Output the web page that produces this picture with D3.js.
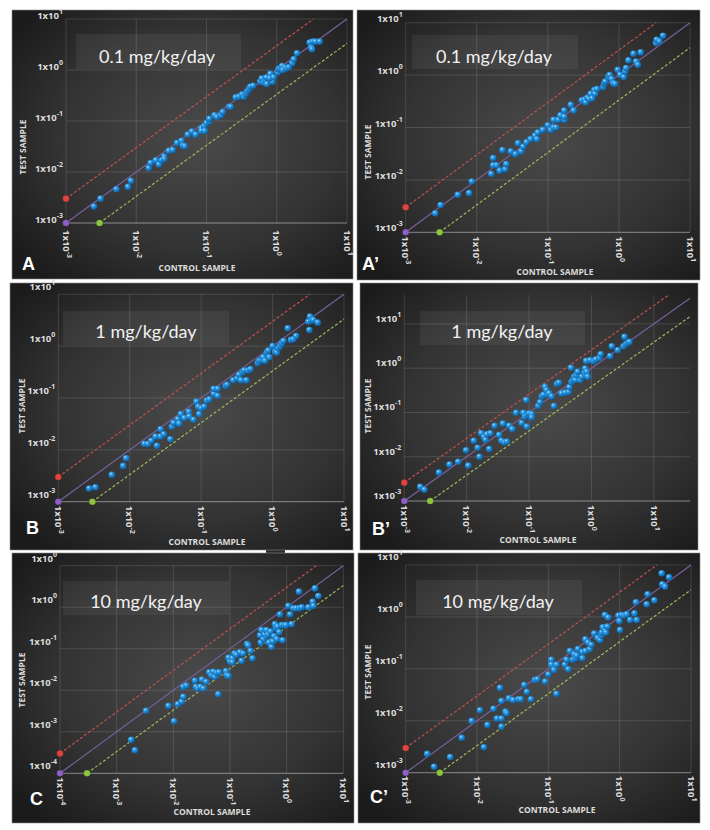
<!DOCTYPE html>
<html><head><meta charset="utf-8">
<script src="https://cdn.jsdelivr.net/npm/d3@7/dist/d3.min.js"></script>
<style>body{margin:0;background:#fff}svg{display:block}</style>
</head><body>
<svg id="chart" width="710" height="830"></svg>
<script>
// ---------------- DATA (control sample value, test sample value) ----------------
const pointsA = [[2.5e-3,2.1e-3],[3.1e-3,3.0e-3],[5.2e-3,4.6e-3],[7.6e-3,5.1e-3],[8.4e-3,6.7e-3],
[1.5e-2,1.2e-2],[1.6e-2,1.5e-2],[1.9e-2,1.7e-2],[2.1e-2,1.4e-2],[2.3e-2,1.7e-2],
[2.5e-2,2.0e-2],[2.5e-2,1.8e-2],[2.9e-2,2.6e-2],[3.3e-2,2.7e-2],[3.8e-2,3.7e-2],
[4.4e-2,4.1e-2],[4.6e-2,3.3e-2],[4.9e-2,3.2e-2],[5.4e-2,5.4e-2],[6.2e-2,6.2e-2],
[7.0e-2,5.4e-2],[8.4e-2,7.2e-2],[9.3e-2,8.0e-2],[8.4e-2,6.4e-2],[0.10,9.1e-2],
[0.11,9.8e-2],[9.4e-2,6.4e-2],[0.11,0.11],[0.13,0.13],[0.14,0.12],
[0.16,0.13],[0.17,0.15],[0.21,0.19],[0.22,0.19],[0.26,0.29],
[0.29,0.30],[0.32,0.33],[0.34,0.30],[0.36,0.34],[0.38,0.38],
[0.40,0.42],[0.42,0.47],[0.46,0.49],[0.58,0.59],[0.61,0.68],
[0.65,0.57],[0.69,0.62],[0.71,0.71],[0.72,0.53],[0.81,0.84],
[0.87,0.59],[0.79,0.69],[0.90,0.72],[1.03,0.89],[1.06,1.04],
[1.12,1.08],[1.19,1.20],[1.28,1.13],[1.22,1.00],[1.36,1.07],
[1.48,1.13],[1.66,1.36],[1.74,1.62],[1.94,2.13],[2.94,3.44],
[3.10,2.75],[3.17,2.55],[3.27,3.60],[3.54,3.60],[4.07,3.60]];

const pointsAp = [[2.6e-3,2.3e-3],[3.1e-3,3.3e-3],[5.4e-3,5.2e-3],[7.8e-3,5.6e-3],[8.5e-3,9.3e-3],
[1.6e-2,1.3e-2],[1.7e-2,1.9e-2],[1.7e-2,2.6e-2],[1.9e-2,1.9e-2],[2.1e-2,1.5e-2],
[2.3e-2,3.7e-2],[2.5e-2,1.6e-2],[2.6e-2,2.0e-2],[3.0e-2,3.5e-2],[3.5e-2,3.1e-2],
[3.8e-2,5.0e-2],[4.2e-2,3.5e-2],[4.5e-2,4.3e-2],[5.0e-2,5.2e-2],[5.7e-2,6.0e-2],
[6.6e-2,7.0e-2],[7.0e-2,6.0e-2],[7.2e-2,8.0e-2],[8.5e-2,9.0e-2],[0.10,0.11],
[0.11,9.0e-2],[0.12,0.10],[0.13,0.10],[0.12,0.14],[0.14,0.14],
[0.17,0.14],[0.15,0.17],[0.17,0.21],[0.17,0.16],[0.21,0.27],
[0.23,0.21],[0.30,0.33],[0.33,0.34],[0.34,0.30],[0.36,0.37],
[0.38,0.35],[0.40,0.44],[0.42,0.36],[0.45,0.52],[0.46,0.44],
[0.49,0.54],[0.60,0.59],[0.62,0.68],[0.64,0.75],[0.71,0.92],
[0.74,1.0],[0.79,0.84],[0.83,0.70],[0.88,0.68],[0.96,1.26],
[1.04,1.01],[1.17,0.92],[1.22,1.17],[1.26,1.36],[1.36,1.91],
[1.60,2.56],[1.74,1.82],[1.84,1.57],[2.02,2.71],[3.32,4.08],
[3.40,4.73],[3.71,4.40],[4.17,5.65]];

const pointsB = [[2.7e-3,1.8e-3],[3.3e-3,1.9e-3],[5.6e-3,3.3e-3],[8.1e-3,4.9e-3],[8.9e-3,6.9e-3],
[1.6e-2,1.3e-2],[1.8e-2,1.3e-2],[2.0e-2,1.5e-2],[2.4e-2,1.2e-2],[2.3e-2,1.8e-2],
[2.7e-2,2.5e-2],[2.7e-2,1.8e-2],[3.0e-2,2.0e-2],[3.7e-2,1.6e-2],[3.9e-2,2.8e-2],
[4.1e-2,3.3e-2],[4.7e-2,3.9e-2],[4.9e-2,3.2e-2],[5.2e-2,4.9e-2],[5.8e-2,4.1e-2],
[6.7e-2,5.4e-2],[6.8e-2,4.4e-2],[7.8e-2,3.8e-2],[8.6e-2,8.5e-2],[9.1e-2,6.8e-2],
[9.4e-2,4.9e-2],[0.10,6.3e-2],[0.11,6.8e-2],[0.12,8.9e-2],[0.13,9.4e-2],
[0.15,0.12],[0.15,0.15],[0.17,0.11],[0.17,0.15],[0.22,0.17],
[0.23,0.18],[0.28,0.22],[0.32,0.24],[0.34,0.28],[0.36,0.22],
[0.38,0.31],[0.40,0.34],[0.43,0.22],[0.45,0.34],[0.49,0.36],
[0.62,0.47],[0.65,0.52],[0.70,0.54],[0.74,0.61],[0.78,0.52],
[0.83,0.75],[0.87,0.82],[0.90,0.61],[1.0,1.0],[1.09,0.78],
[1.14,0.75],[1.20,0.91],[1.27,1.0],[1.34,1.13],[1.42,1.26],
[1.63,2.21],[1.81,1.32],[1.95,1.36],[2.13,1.57],[3.27,2.05],
[3.17,2.97],[3.34,3.71],[3.52,3.10],[3.72,3.20],[4.28,2.84]];

const pointsBp = [[1.8e-3,2.1e-3],[2.1e-3,1.8e-3],[3.6e-3,4.4e-3],[5.3e-3,6.7e-3],[7.3e-3,7.7e-3],
[1.06e-2,6.3e-3],[9.8e-3,1.4e-2],[1.3e-2,2.3e-2],[1.5e-2,1.6e-2],[1.6e-2,1.0e-2],
[1.7e-2,3.4e-2],[1.9e-2,2.8e-2],[2.0e-2,2.4e-2],[2.1e-2,3.2e-2],[2.3e-2,1.5e-2],
[2.4e-2,3.4e-2],[2.8e-2,5.0e-2],[3.3e-2,3.1e-2],[3.6e-2,2.3e-2],[3.8e-2,5.6e-2],
[4.0e-2,2.1e-2],[4.4e-2,2.2e-2],[4.8e-2,5.0e-2],[5.4e-2,4.2e-2],[6.2e-2,9.8e-2],
[7.6e-2,5.8e-2],[8.1e-2,9.8e-2],[8.6e-2,8.0e-2],[9.0e-2,0.19],[9.2e-2,4.8e-2],
[9.4e-2,8.7e-2],[0.10,9.5e-2],[0.11,9.2e-2],[0.11,7.7e-2],[0.14,0.14],
[0.15,0.17],[0.16,0.23],[0.17,0.25],[0.18,0.38],[0.19,0.32],
[0.20,0.25],[0.21,0.27],[0.23,0.23],[0.25,0.14],[0.28,0.44],
[0.30,0.47],[0.33,0.27],[0.38,0.28],[0.43,0.29],[0.44,0.37],
[0.47,1.02],[0.48,0.49],[0.51,0.55],[0.53,0.64],[0.55,0.54],
[0.57,0.70],[0.60,0.83],[0.66,0.54],[0.70,0.64],[0.77,0.79],
[0.79,0.98],[0.82,0.70],[0.84,0.83],[0.87,0.64],[0.82,1.46],
[0.95,1.51],[1.08,1.44],[1.17,1.57],[1.34,1.71],[1.41,2.07],
[1.99,1.87],[2.12,3.13],[2.64,2.55],[3.26,3.13],[3.38,5.09],
[3.56,3.48],[3.83,3.72],[4.07,3.93]];

const pointsC = [[1.8e-3,6.4e-4],[2.1e-3,3.6e-4],[3.3e-3,3.2e-3],[8.2e-3,4.2e-3],[1.03e-2,1.8e-3],
[1.2e-2,4.6e-3],[1.4e-2,5.3e-3],[1.5e-2,7.0e-3],[1.5e-2,1.2e-2],[1.7e-2,1.3e-2],
[2.4e-2,1.7e-2],[2.5e-2,1.2e-2],[2.7e-2,1.1e-2],[3.0e-2,1.2e-2],[3.2e-2,1.8e-2],
[3.4e-2,1.1e-2],[3.8e-2,1.6e-2],[4.3e-2,2.7e-2],[4.7e-2,2.3e-2],[5.1e-2,2.8e-2],
[5.4e-2,2.1e-2],[5.8e-2,2.6e-2],[6.2e-2,8.0e-3],[6.4e-2,2.7e-2],[8.5e-2,2.9e-2],
[8.7e-2,2.3e-2],[9.4e-2,2.2e-2],[9.4e-2,6.1e-2],[0.10,4.9e-2],[0.11,5.9e-2],
[0.11,4.7e-2],[0.12,7.7e-2],[0.13,7.1e-2],[0.15,8.2e-2],[0.16,5.1e-2],
[0.17,7.7e-2],[0.20,0.13],[0.21,0.12],[0.23,8.8e-2],[0.25,5.9e-2],
[0.34,0.21],[0.35,0.14],[0.36,0.28],[0.39,0.17],[0.41,0.22],
[0.44,0.28],[0.44,0.20],[0.47,0.22],[0.49,0.14],[0.52,0.26],
[0.54,0.11],[0.57,0.15],[0.60,0.20],[0.62,0.39],[0.65,0.31],
[0.67,0.17],[0.69,0.34],[0.74,0.25],[0.76,0.67],[0.82,0.37],
[0.85,0.16],[0.90,0.37],[0.97,0.37],[1.07,1.07],[1.15,0.67],
[1.22,0.39],[1.31,0.94],[1.46,0.94],[1.65,2.37],[1.67,0.94],
[1.84,0.99],[2.41,0.99],[2.88,1.36],[2.96,1.07],[3.16,2.84],
[3.62,1.86]];

const pointsCp = [[2.0e-3,2.3e-3],[2.5e-3,1.3e-3],[4.2e-3,2.0e-3],[6.1e-3,4.7e-3],[8.4e-3,9.9e-3],
[1.1e-2,1.6e-2],[1.25e-2,3.1e-3],[1.4e-2,8.3e-3],[1.7e-2,1.7e-2],[1.9e-2,1.1e-2],
[2.1e-2,4.3e-2],[2.2e-2,1.1e-2],[2.2e-2,2.4e-2],[2.2e-2,7.7e-3],[2.5e-2,1.5e-2],
[2.6e-2,1.4e-2],[2.8e-2,2.7e-2],[3.2e-2,2.5e-2],[3.8e-2,2.6e-2],[4.1e-2,2.6e-2],
[4.6e-2,4.9e-2],[5.0e-2,3.6e-2],[5.7e-2,2.6e-2],[6.5e-2,6.1e-2],[7.0e-2,6.3e-2],
[9.0e-2,5.7e-2],[0.10,7.8e-2],[0.11,0.14],[0.11,0.15],[0.11,0.12],
[0.12,9.9e-2],[0.12,9.5e-2],[0.13,3.3e-2],[0.13,0.12],[0.17,0.12],
[0.18,0.15],[0.19,9.8e-2],[0.20,0.22],[0.22,0.15],[0.23,0.19],
[0.24,0.16],[0.25,0.18],[0.26,0.24],[0.30,0.21],[0.30,0.16],
[0.33,0.22],[0.33,0.37],[0.36,0.32],[0.38,0.24],[0.40,0.29],
[0.44,0.48],[0.49,0.39],[0.53,0.36],[0.55,0.44],[0.56,0.50],
[0.58,0.63],[0.62,0.54],[0.62,1.09],[0.64,0.50],[0.67,0.65],
[0.69,0.97],[0.96,1.06],[0.99,0.83],[1.01,0.56],[1.07,1.09],
[1.16,1.06],[1.25,1.12],[1.40,0.87],[1.61,1.17],[1.73,0.87],
[1.69,1.91],[2.39,1.75],[2.47,2.72],[3.06,2.09],[3.88,6.90],
[3.96,4.25],[4.32,3.83],[4.92,5.78]];

const panelLetters = ["A", "A\u2019", "B", "B\u2019", "C", "C\u2019"];
const doseLabels = ["0.1 mg/kg/day", "0.1 mg/kg/day", "1 mg/kg/day", "1 mg/kg/day", "10 mg/kg/day", "10 mg/kg/day"];
const xAxisTitle = "CONTROL SAMPLE";
const yAxisTitle = "TEST SAMPLE";
// tick values (decades) and their superscript labels
const ticks3 = [1e-3, 1e-2, 1e-1, 1e0, 1e1];
const tickExp3 = ["-3", "-2", "-1", "0", "1"];
const ticks4 = [1e-4, 1e-3, 1e-2, 1e-1, 1e0, 1e1];
const tickExp4 = ["-4", "-3", "-2", "-1", "0", "1"];
const tickExpCy = ["-4", "-3", "-2", "-1", "0", "0"];
const foldChange = [3, 3, 3, 2.6, 3, 3];
const datasets = [pointsA, pointsAp, pointsB, pointsBp, pointsC, pointsCp];

// ---------------- LAYOUT ----------------
const layouts = [
 {panel:[12,10,341,269], plot:[66,347,223,19], xd:[1e-3,10], yd:[1e-3,10], xt:ticks3, xe:tickExp3, yt:ticks3, ye:tickExp3,
  box:[76,34,165,35], title:[157,63], yTitle:[22,147], xTitle:[197,271], letter:[22,270], yOff:4, xOff:7},
 {panel:[357,10,343,270], plot:[405.7,690,232.3,22.7], xd:[1e-3,10], yd:[1e-3,10], xt:ticks3, xe:tickExp3, yt:ticks3, ye:tickExp3,
  box:[412,35,166,34], title:[494,63], yTitle:[367,152], xTitle:[555,275], letter:[362,270], yOff:5, xOff:4},
 {panel:[10,283,343,267], plot:[58.3,344,501.7,294.3], xd:[1e-3,10], yd:[1e-3,10], xt:ticks3, xe:tickExp3, yt:ticks3, ye:tickExp3,
  box:[63,311,166,34], title:[146,338], yTitle:[21,406], xTitle:[207,545], letter:[26,534], yOff:8, xOff:4},
 {panel:[360,283,338,267], plot:[404.3,690,501,295], xd:[1e-3,38], yd:[1e-3,45], xt:ticks3, xe:tickExp3, yt:ticks3, ye:tickExp3,
  box:[420,311,165,34], title:[502,338], yTitle:[367,406], xTitle:[538,543], letter:[372,535], yOff:6, xOff:4},
 {panel:[12,553,342,270], plot:[60,343.3,773.3,565.7], xd:[1e-4,10], yd:[1e-4,10], xt:ticks4, xe:tickExp4, yt:ticks4, ye:tickExpCy,
  box:[63,581,166,34], title:[146,608], yTitle:[21,680], xTitle:[212,815], letter:[30,805], yOff:8, xOff:4},
 {panel:[358,553,342,270], plot:[405.7,691,772.7,565], xd:[1e-3,10], yd:[1e-3,10], xt:ticks3, xe:tickExp3, yt:ticks3, ye:tickExp3,
  box:[416,580,166,35], title:[498,608], yTitle:[367,672], xTitle:[557,813], letter:[370,803], yOff:9, xOff:3}
];

const svg = d3.select("#chart");
const defs = svg.append("defs");
const bg = defs.append("radialGradient").attr("id","panelBg").attr("cx","55%").attr("cy","48%").attr("r","68%");
bg.append("stop").attr("offset","0%").attr("stop-color","#4a4a4a");
bg.append("stop").attr("offset","60%").attr("stop-color","#333333");
bg.append("stop").attr("offset","100%").attr("stop-color","#1b1b1b");
const ball = defs.append("radialGradient").attr("id","ball").attr("cx","38%").attr("cy","32%").attr("r","70%");
ball.append("stop").attr("offset","0%").attr("stop-color","#b5e2ff");
ball.append("stop").attr("offset","30%").attr("stop-color","#2c9ce8");
ball.append("stop").attr("offset","100%").attr("stop-color","#0b5b9c");

const FONT = "Lato, 'Open Sans', 'Liberation Sans', sans-serif";
const BOLDFONT = "'Open Sans', 'Liberation Sans', sans-serif";
const txtCol = "#dcdcdc";

function powLabel(sel, exp) {
  sel.append("tspan").text("1x10");
  sel.append("tspan").attr("dy", -4).attr("font-size", "7px").text(exp);
}

// dark bridge artifact between B and C
svg.append("rect").attr("x",266).attr("y",548).attr("width",19).attr("height",7).attr("fill","#2a2a2a");

layouts.forEach((L, i) => {
  const g = svg.append("g");
  const [px, py, pw, ph] = L.panel;
  g.append("rect").attr("x",px).attr("y",py).attr("width",pw).attr("height",ph)
    .attr("fill","url(#panelBg)").attr("stroke","#8a8a8a").attr("stroke-width",0.6);

  const x = d3.scaleLog().domain(L.xd).range([L.plot[0], L.plot[1]]);
  const y = d3.scaleLog().domain(L.yd).range([L.plot[2], L.plot[3]]);
  const fold = foldChange[i];

  // title box
  g.append("rect").attr("x",L.box[0]).attr("y",L.box[1]).attr("width",L.box[2]).attr("height",L.box[3])
    .attr("fill","rgba(255,255,255,0.06)");

  // grid
  const grid = g.append("g").attr("stroke","rgba(255,255,255,0.13)").attr("stroke-width",1);
  grid.selectAll("line.v").data(L.xt).join("line")
    .attr("x1", d => x(d)).attr("x2", d => x(d))
    .attr("y1", y(L.yd[0])).attr("y2", y(L.yd[1]));
  grid.selectAll("line.h").data(L.yt).join("line").attr("class","h")
    .attr("x1", x(L.xd[0])).attr("x2", x(L.xd[1]))
    .attr("y1", d => y(d)).attr("y2", d => y(d));
  // x-axis baseline
  g.append("line").attr("x1", x(L.xd[0])).attr("x2", x(L.xd[1]))
    .attr("y1", y(L.yd[0])).attr("y2", y(L.yd[0])).attr("stroke","rgba(255,255,255,0.35)");

  // reference lines
  const lo = Math.max(L.xd[0], L.yd[0]);
  const hi = Math.min(L.xd[1], L.yd[1]);
  g.append("line").attr("x1", x(lo)).attr("y1", y(lo)).attr("x2", x(hi)).attr("y2", y(hi))
    .attr("stroke","#7a62a0").attr("stroke-width",1.1);
  const red = [[L.xd[0], L.xd[0]*fold], [L.yd[1]/fold, L.yd[1]]];
  g.append("line").attr("x1", x(red[0][0])).attr("y1", y(red[0][1])).attr("x2", x(red[1][0])).attr("y2", y(red[1][1]))
    .attr("stroke","#c0504d").attr("stroke-width",1.2).attr("stroke-dasharray","3,2");
  const green = [[L.yd[0]*fold, L.yd[0]], [L.xd[1], L.xd[1]/fold]];
  g.append("line").attr("x1", x(green[0][0])).attr("y1", y(green[0][1])).attr("x2", x(green[1][0])).attr("y2", y(green[1][1]))
    .attr("stroke","#9bbb59").attr("stroke-width",1.2).attr("stroke-dasharray","3,2");

  // points
  g.append("g").selectAll("circle").data(datasets[i]).join("circle")
    .attr("cx", d => x(d[0])).attr("cy", d => y(d[1])).attr("r", 3.3)
    .attr("fill","url(#ball)");

  // start dots
  const dots = [[red[0], "#e0443f"], [[lo, lo], "#8e5fc6"], [green[0], "#8cc63f"]];
  g.selectAll("circle.dot").data(dots).join("circle").attr("class","dot")
    .attr("cx", d => x(d[0][0])).attr("cy", d => y(d[0][1])).attr("r", 3.3)
    .attr("fill", d => d[1]).attr("stroke","rgba(0,0,0,0.3)").attr("stroke-width",0.5);

  // y tick labels
  L.yt.forEach((t, k) => {
    const tx = g.append("text").attr("x", L.plot[0] - 3).attr("y", y(t) - L.yOff)
      .attr("text-anchor","end").attr("dominant-baseline","central")
      .attr("font-family", BOLDFONT).attr("font-weight","bold").attr("font-size","9.5px").attr("fill", txtCol);
    powLabel(tx, L.ye[k]);
  });
  // x tick labels (rotated)
  L.xt.forEach((t, k) => {
    const tx = g.append("text")
      .attr("transform", `translate(${x(t)},${y(L.yd[0]) + L.xOff}) rotate(90)`)
      .attr("text-anchor","start").attr("dy","0.35em")
      .attr("font-family", BOLDFONT).attr("font-weight","bold").attr("font-size","9.5px").attr("fill", txtCol);
    powLabel(tx, L.xe[k]);
  });

  // axis titles
  g.append("text").attr("transform", `translate(${L.yTitle[0]},${L.yTitle[1]}) rotate(-90)`)
    .attr("text-anchor","middle").attr("dominant-baseline","central")
    .attr("font-family", BOLDFONT).attr("font-weight","bold").attr("font-size","8.5px").attr("fill", txtCol)
    .text(yAxisTitle);
  g.append("text").attr("x", L.xTitle[0]).attr("y", L.xTitle[1]).attr("text-anchor","middle")
    .attr("font-family", BOLDFONT).attr("font-weight","bold").attr("font-size","8.5px").attr("fill", txtCol)
    .text(xAxisTitle);

  // dose title
  g.append("text").attr("x", L.title[0]).attr("y", L.title[1]).attr("text-anchor","middle")
    .attr("font-family", FONT).attr("font-size","18px").attr("fill","#f2f2f2")
    .text(doseLabels[i]);

  // panel letter
  g.append("text").attr("x", L.letter[0]).attr("y", L.letter[1])
    .attr("font-family","'Liberation Sans', Arial, sans-serif").attr("font-weight","bold").attr("font-size","18px").attr("fill","#ffffff")
    .text(panelLetters[i]);
});
</script>
</body></html>
